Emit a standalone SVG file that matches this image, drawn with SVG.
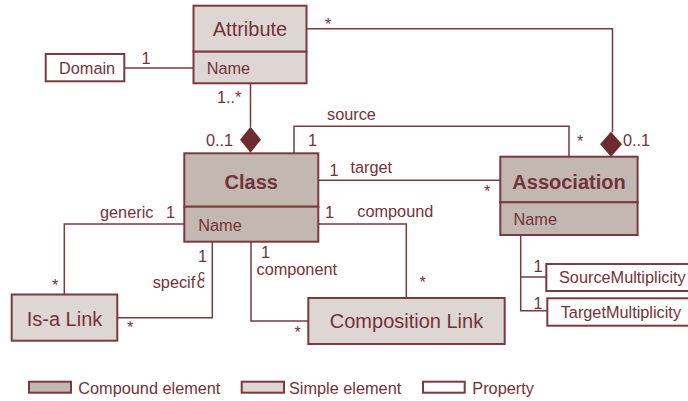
<svg xmlns="http://www.w3.org/2000/svg" width="688" height="401" viewBox="0 0 688 401">
<style>
text{font-family:"Liberation Sans",Arial,sans-serif;fill:#74323a;font-size:16.3px}
.big{font-size:20px}
.bold{font-size:20px;font-weight:bold}
.cmp{fill:#c2b7b1;stroke:#7a3a3f;stroke-width:2}
.smp{fill:#ddd6d2;stroke:#7a3a3f;stroke-width:2}
.prp{fill:#fff;stroke:#7a3a3f;stroke-width:2}
.ln{fill:none;stroke:#7a3a3f;stroke-width:1.5}
.dia{fill:#6e2c31}
</style>
<rect width="688" height="401" fill="#fff"/>
<g id="connectors">
<polyline class="ln" points="125,68 193,68"/>
<polyline class="ln" points="307,28.7 612.5,28.7 612.5,132"/>
<polyline class="ln" points="250.5,83.5 250.5,127"/>
<polyline class="ln" points="294,153 294,126.3 569,126.3 569,157"/>
<polyline class="ln" points="318,180.3 500,180.3"/>
<polyline class="ln" points="184,224 64.3,224 64.3,294.5"/>
<polyline class="ln" points="212.3,242 212.3,317.7 117.3,317.7"/>
<polyline class="ln" points="251,242 251,321 308.3,321"/>
<polyline class="ln" points="318,224 406.3,224 406.3,298"/>
<polyline class="ln" points="520.7,235 520.7,310.7 547,310.7"/>
<polyline class="ln" points="520.7,277 546,277"/>
<polygon class="dia" points="250.5,126.7 261,139.7 250.5,152.7 240,139.7"/>
<polygon class="dia" points="611,131.7 622,144.2 611,156.7 600,144.2"/>
<text x="141.5" y="63.5">1</text>
<text x="325" y="30">*</text>
<text x="623" y="145.7">0..1</text>
<text x="217" y="103.3">1..*</text>
<text x="206" y="145.7">0..1</text>
<text x="327" y="120">source</text>
<text x="308" y="145.7">1</text>
<text x="577" y="147">*</text>
<text x="329.5" y="175.7">1</text>
<text x="350.5" y="173.3">target</text>
<text x="484" y="197">*</text>
<text x="100" y="218.3">generic</text>
<text x="166" y="218.3">1</text>
<text x="52" y="291">*</text>
<text x="198" y="261.7">1</text>
<text x="152.7" y="288">specif<tspan dx="1.5">c</tspan><tspan x="198" y="280" font-size="14">c</tspan></text>
<text x="127" y="333">*</text>
<text x="261" y="257.5">1</text>
<text x="256.5" y="274.5">component</text>
<text x="294.5" y="338">*</text>
<text x="325" y="218.3">1</text>
<text x="357.3" y="216.7">compound</text>
<text x="419.5" y="288">*</text>
<text x="533.5" y="272.3">1</text>
<text x="533.5" y="308.5">1</text>
</g>
<g id="attribute">
<rect class="smp" x="193.5" y="5.7" width="113" height="46"/>
<rect class="smp" x="193.5" y="51.7" width="113" height="31.6"/>
<text class="big" x="250" y="35.7" text-anchor="middle">Attribute</text>
<text x="206.7" y="74">Name</text>
</g>
<g id="domain">
<rect class="prp" x="45.7" y="54" width="78.6" height="27.3"/>
<text x="59" y="74">Domain</text>
</g>
<g id="class">
<rect class="cmp" x="184.3" y="153.3" width="134" height="53.4"/>
<rect class="cmp" x="184.3" y="206.7" width="134" height="35"/>
<text class="bold" x="251.3" y="189.3" text-anchor="middle">Class</text>
<text x="198.3" y="230.7">Name</text>
</g>
<g id="association">
<rect class="cmp" x="500.3" y="156.7" width="137.3" height="45.6"/>
<rect class="cmp" x="500.3" y="202.3" width="137.3" height="32.7"/>
<text class="bold" x="569" y="188.5" text-anchor="middle">Association</text>
<text x="513.5" y="225">Name</text>
</g>
<g id="isa-link">
<rect class="smp" x="11.7" y="294.5" width="105.6" height="46.2"/>
<text class="big" x="64.5" y="326" text-anchor="middle">Is-a Link</text>
</g>
<g id="composition-link">
<rect class="smp" x="308.3" y="298" width="196.4" height="46"/>
<text class="big" x="406.5" y="328.3" text-anchor="middle">Composition Link</text>
</g>
<g id="source-multiplicity">
<rect class="prp" x="546.3" y="264" width="145" height="27"/>
<text x="559" y="283.3">SourceMultiplicity</text>
</g>
<g id="target-multiplicity">
<rect class="prp" x="547.3" y="298.3" width="145" height="27.4"/>
<text x="560.7" y="318.3">TargetMultiplicity</text>
</g>
<g id="legend">
<rect class="cmp" x="29" y="381.7" width="42" height="11" stroke-width="1.5"/>
<text x="78.3" y="394">Compound element</text>
<rect class="smp" x="241.7" y="381.7" width="42.3" height="11" stroke-width="1.5"/>
<text x="289" y="394">Simple element</text>
<rect class="prp" x="423" y="381.7" width="41.7" height="11" stroke-width="1.5"/>
<text x="472.3" y="394">Property</text>
</g>
</svg>
